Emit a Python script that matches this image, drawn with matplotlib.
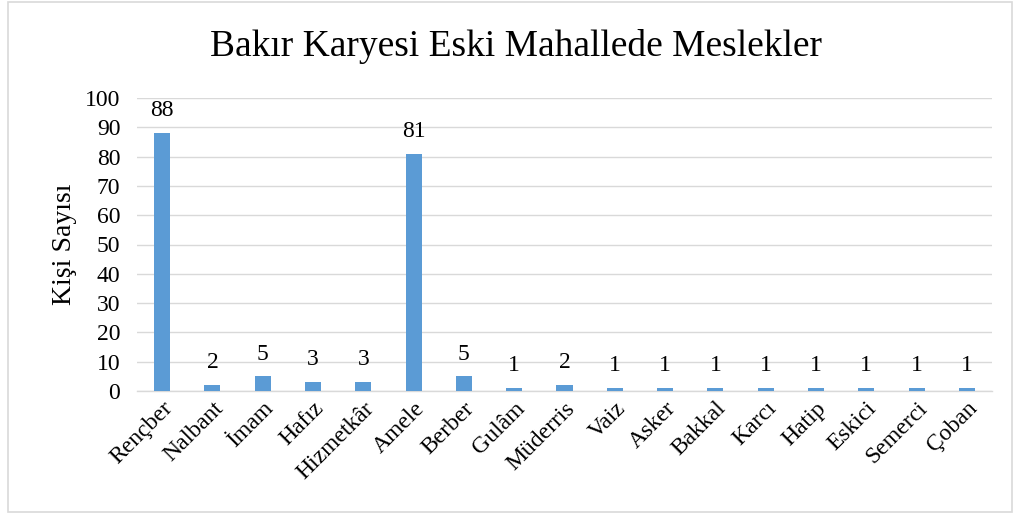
import matplotlib.pyplot as plt
import matplotlib.patches as patches
import numpy as np

# data
meslekler = ['Rençber', 'Nalbant', 'İmam', 'Hafız', 'Hizmetkâr', 'Amele', 'Berber', 'Gulâm',
             'Müderris', 'Vaiz', 'Asker', 'Bakkal', 'Karcı', 'Hatip', 'Eskici', 'Semerci', 'Çoban']
kisi_sayisi = [88, 2, 5, 3, 3, 81, 5, 1, 2, 1, 1, 1, 1, 1, 1, 1, 1]
y_ticks = [0, 10, 20, 30, 40, 50, 60, 70, 80, 90, 100]

plt.rcParams['font.family'] = ['Liberation Serif', 'DejaVu Serif']

fig = plt.figure(figsize=(10.17, 5.14), dpi=100)
# outer chart border
fig.patches.append(patches.Rectangle((8/1017, 2/514), 1004/1017, 510/514, transform=fig.transFigure,
                                     fill=False, edgecolor='#D9D9D9', linewidth=1.2))

ax = fig.add_axes([137/1017, 1 - 391/514, 855/1017, 293/514])
x = np.arange(len(meslekler))
bars = ax.bar(x, kisi_sayisi, width=0.32, color='#5B9BD5', zorder=3)

for xi, v in zip(x, kisi_sayisi):
    ax.text(xi, v + 4, str(v), ha='center', va='bottom', fontsize=17)

ax.set_xlim(-0.5, len(meslekler) - 0.5)
ax.set_ylim(0, 100)
ax.set_yticks(y_ticks)
ax.tick_params(axis='y', length=0, labelsize=17, pad=12)
ax.tick_params(axis='x', length=0, pad=5)
ax.set_xticks(x)
ax.set_xticklabels(meslekler, rotation=45, ha='right', rotation_mode='anchor', fontsize=17)
ax.grid(axis='y', color='#D9D9D9', linewidth=1, zorder=0)
for s in ['top', 'right', 'left']:
    ax.spines[s].set_visible(False)
ax.spines['bottom'].set_color('#D9D9D9')
ax.spines['bottom'].set_linewidth(1)

ax.set_ylabel('Kişi Sayısı', fontsize=20, labelpad=6)
fig.text(0.507, 1 - 47/514, 'Bakır Karyesi Eski Mahallede Meslekler', ha='center', va='center', fontsize=27)

plt.savefig('out.png', dpi=100)
